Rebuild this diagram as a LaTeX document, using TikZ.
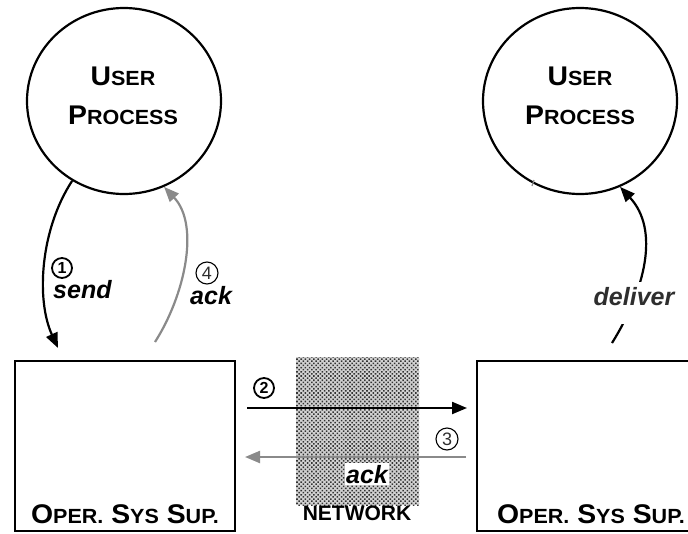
\documentclass[tikz,border=0pt]{standalone}
\usepackage{fontspec}
\setmainfont{Liberation Sans}
\newfontfamily\widesans[FakeStretch=1.05]{Liberation Sans}
\usetikzlibrary{arrows.meta,shapes.geometric,patterns.meta}
% small-caps look: one full-size capital followed by reduced capitals
\newcommand\capsword[2]{{\fontsize{27}{32}\selectfont #1}{\fontsize{20.5}{24}\selectfont #2}}
\definecolor{arrowgray}{HTML}{8A8A8A}
\definecolor{labelgray}{HTML}{2E2E2E}

\begin{document}
\begin{tikzpicture}[x=1pt,y=-1pt,
  proc/.style={ellipse,draw,line width=2.2pt,minimum width=194pt,minimum height=186pt,inner sep=0pt},
  osbox/.style={rectangle,draw,line width=2pt,minimum width=#1,minimum height=170pt,inner sep=0pt},
  caps/.style={inner sep=0pt,font=\widesans\bfseries\fontsize{27}{32}\selectfont},
  ital/.style={inner sep=0pt,font=\bfseries\itshape\fontsize{25}{30}\selectfont},
  numA/.style={circle,draw,line width=1.8pt,inner sep=0pt,minimum size=20pt,
    font=\bfseries\fontsize{16}{16}\selectfont},
  numB/.style={circle,draw,line width=1.1pt,inner sep=0pt,minimum size=22pt,
    text=labelgray,font=\fontsize{18}{18}\selectfont},
  blk/.style={line width=2.2pt,-{Triangle[length=15pt,width=12pt]}},
  gry/.style={line width=2.2pt,draw=arrowgray,-{Triangle[length=15pt,width=12pt]}},
]
\useasboundingbox (0,0) rectangle (688,533);
\clip (0,0) rectangle (688,533);

% network medium
\fill[gray!35] (296,357) rectangle (419,505);
\fill[pattern={Dots[distance=3pt,radius=1.1pt,angle=45]},pattern color=black!80] (296,357) rectangle (419,505);
\node[anchor=base,inner sep=0pt,font=\bfseries\fontsize{21}{25}\selectfont] (net) at (357,520) {NETWORK};

% operating system support boxes
\node[osbox=220pt] (lbox) at (125,446) {};
\node[osbox=223pt] (rbox) at (588.5,446) {};
\node[caps,anchor=base] (lboxtxt) at ([yshift=9pt]lbox.south) {\capsword{O}{PER.} \capsword{S}{YS} \capsword{S}{UP.}};
\node[caps,anchor=base] (rboxtxt) at ([xshift=2.5pt,yshift=9pt]rbox.south) {\capsword{O}{PER.} \capsword{S}{YS} \capsword{S}{UP.}};

% user processes
\node[proc] (lc) at (124,101) {};
\node[proc] (rc) at (580,101) {};
\node[caps,anchor=base] (lcu) at ([xshift=-1pt,yshift=16pt]lc.center) {\capsword{U}{SER}};
\node[caps,anchor=base] (lcp) at ([xshift=-1pt,yshift=-23pt]lc.center) {\capsword{P}{ROCESS}};
\node[caps,anchor=base] (rcu) at ([yshift=16pt]rc.center) {\capsword{U}{SER}};
\node[caps,anchor=base] (rcp) at ([yshift=-23pt]rc.center) {\capsword{P}{ROCESS}};

% free ends of the connectors
\coordinate (sendend) at (58,348);
\coordinate (ackstart) at (155,342);
\coordinate (dstart) at (612,343);

% 1: send
\draw[blk] (lc.237) .. controls (40,230) and (36,300) .. (sendend);
% 4: ack back to the sender
\draw[gry] (ackstart) .. controls (185,295) and (200,225) .. (lc.295);
% 2: across the network
\draw[blk,shorten <=11pt,shorten >=9pt] ([yshift=38pt]lbox.east) -- ([yshift=38pt]rbox.west);
% 3: acknowledgement across the network
\draw[gry,shorten <=10pt,shorten >=9pt] ([yshift=-11pt]rbox.west) -- ([yshift=-11pt]lbox.east);
% deliver
\draw[blk] (dstart) .. controls (645,290) and (660,230) .. (rc.295);
\draw[arrowgray,line width=1.2pt] (534,180) -- (532,186);

% labels
\node[numA] (n1) at (62,268) {1};
\node[ital,anchor=base west] (send) at (53,298) {send};
\node[numB] (n4) at (207,273) {4};
\node[ital,anchor=base west] (ack1) at (190,304) {ack};
\node[numA] (n2) at (264,388) {2};
\node[numB] (n3) at (447,439) {3};
\node[ital,anchor=base,fill=white,inner xsep=1.5pt,inner ysep=1.5pt] (ack2) at (367,483) {ack};
\node[ital,anchor=base,fill=white,text=labelgray,inner xsep=2pt,text height=23pt,text depth=19pt] (dlv) at (634,305) {deliver};
\end{tikzpicture}
\end{document}
